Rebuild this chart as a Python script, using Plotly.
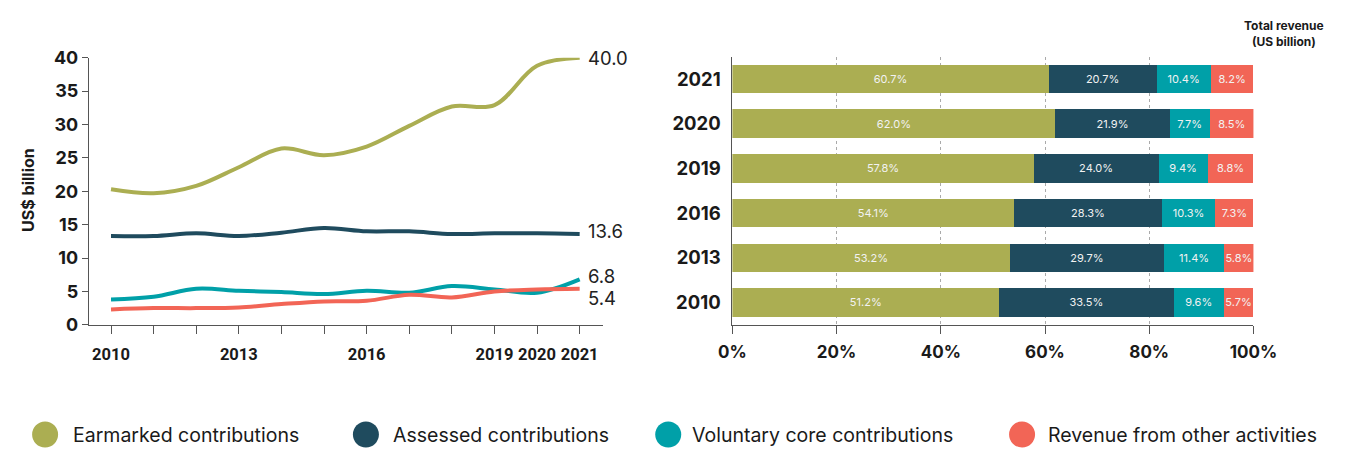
import plotly.graph_objects as go

W, H = 1362, 455

# ---------------- data ----------------
years = [2010, 2011, 2012, 2013, 2014, 2015, 2016, 2017, 2018, 2019, 2020, 2021]
earmarked = [20.3, 19.7, 20.8, 23.6, 26.4, 25.4, 26.7, 29.8, 32.7, 32.9, 38.8, 40.0]
assessed = [13.3, 13.3, 13.7, 13.3, 13.8, 14.5, 14.0, 14.0, 13.6, 13.7, 13.7, 13.6]
voluntary = [3.8, 4.2, 5.4, 5.1, 4.9, 4.6, 5.1, 4.8, 5.8, 5.3, 4.8, 6.8]
other = [2.3, 2.5, 2.5, 2.6, 3.1, 3.5, 3.6, 4.5, 4.1, 5.0, 5.3, 5.4]
end_labels = ["40.0", "13.6", "6.8", "5.4"]
end_label_shift = [0, 3, 3, -9]

x_tick_years = years
x_tick_text = ["2010", "", "", "2013", "", "", "2016", "", "", "2019", "2020", "2021"]
y_ticks = [0, 5, 10, 15, 20, 25, 30, 35, 40]

bar_years = ["2010", "2013", "2016", "2019", "2020", "2021"]
pct_earmarked = [51.2, 53.2, 54.1, 57.8, 62.0, 60.7]
pct_assessed = [33.5, 29.7, 28.3, 24.0, 21.9, 20.7]
pct_voluntary = [9.6, 11.4, 10.3, 9.4, 7.7, 10.4]
pct_other = [5.7, 5.8, 7.3, 8.8, 8.5, 8.2]
totals = ["$39.6", "$44.6", "$49.3", "$56.9", "$62.6", "$65.9"]
pct_ticks = [0, 20, 40, 60, 80, 100]
pct_tick_text = ["0%", "20%", "40%", "60%", "80%", "100%"]

names = ["Earmarked contributions", "Assessed contributions",
         "Voluntary core contributions", "Revenue from other activities"]
colors = ["#abae52", "#1f4b5e", "#00a0a8", "#f26556"]

FONT = "Inter"
TXT = "#1a1a1a"


def px_x(p):
    return p / W


def px_y(p):
    return 1 - p / H


fig = go.Figure()

# ---------------- left: lines ----------------
series = [earmarked, assessed, voluntary, other]
for s, n, c in zip(series, names, colors):
    fig.add_trace(go.Scatter(
        x=years, y=s, mode="lines", name=n,
        line=dict(color=c, width=4, shape="spline", smoothing=1.0),
        cliponaxis=False, showlegend=False, xaxis="x", yaxis="y"))

for s, lab, sh in zip(series, end_labels, end_label_shift):
    fig.add_annotation(x=years[-1], y=s[-1], xref="x", yref="y", text=lab,
                       showarrow=False, xanchor="left", xshift=6, yshift=sh,
                       font=dict(family=FONT, size=18.5, color="#222"))

# ---------------- right: stacked bars ----------------
pcts = [pct_earmarked, pct_assessed, pct_voluntary, pct_other]
for p, n, c in zip(pcts, names, colors):
    fig.add_trace(go.Bar(
        y=bar_years, x=p, orientation="h", name=n,
        marker=dict(color=c, line=dict(width=0)),
        texttemplate="%{x:.1f}%", textposition="inside",
        insidetextanchor="middle",
        textfont=dict(family=FONT, size=11, color="#f2f2f2"),
        showlegend=False, xaxis="x2", yaxis="y2"))

for yv, t in zip(bar_years, totals):
    fig.add_annotation(x=100, y=yv, xref="x2", yref="y2", text=t,
                       showarrow=False, xanchor="left", xshift=5,
                       font=dict(family=FONT, size=20, color="#222"))

fig.add_annotation(x=px_x(1306), y=px_y(24), xref="paper", yref="paper",
                   text="<b>Total revenue<br>(US billion)</b>", showarrow=False,
                   xanchor="center", yanchor="middle", align="center",
                   font=dict(family=FONT, size=12, color=TXT))

# y axis title left
fig.add_annotation(x=px_x(15), y=px_y(188), xref="paper", yref="paper",
                   text="<b>US$ billion</b>", textangle=-90, showarrow=False,
                   xanchor="center", yanchor="middle",
                   font=dict(family=FONT, size=16, color=TXT))

# ---------------- legend (manual) ----------------
leg_cx = [32, 362, 673, 1037]
leg_tx = [59, 388, 695, 1062]
leg_cy = 444
for cx, tx, n, c in zip(leg_cx, leg_tx, names, colors):
    fig.add_shape(type="circle", xref="paper", yref="paper",
                  xsizemode="pixel", ysizemode="pixel",
                  xanchor=px_x(cx), yanchor=px_y(leg_cy),
                  x0=-13, x1=13, y0=-13, y1=13,
                  fillcolor=c, line=dict(width=0))
    fig.add_annotation(x=px_x(tx), y=px_y(leg_cy), xref="paper", yref="paper",
                       text=n, showarrow=False, xanchor="left", yanchor="middle",
                       font=dict(family=FONT, size=19.5, color=TXT))

axis_common = dict(showline=True, linecolor="#555", linewidth=1,
                   ticks="outside", tickcolor="#555", tickwidth=1)

fig.update_layout(
    width=W, height=H,
    margin=dict(l=0, r=0, t=0, b=0),
    paper_bgcolor="white", plot_bgcolor="white",
    barmode="stack", bargap=0.36,
    uniformtext=dict(minsize=11, mode="show"),
    font=dict(family=FONT, color=TXT),
    xaxis=dict(domain=[px_x(77), px_x(606)], range=[2009.48, 2021.55],
               tickvals=x_tick_years, ticktext=x_tick_text, ticklen=8,
               ticklabelstandoff=6, tickangle=0, showgrid=False, zeroline=False,
               tickfont=dict(family="Roboto", size=16.5, color=TXT, weight="bold"),
               anchor="y", **axis_common),
    yaxis=dict(domain=[px_y(329), px_y(49)], range=[0, 40],
               tickvals=y_ticks, ticklen=6, ticklabelstandoff=0,
               showgrid=False, zeroline=False, anchor="x",
               tickfont=dict(family=FONT, size=18, color=TXT, weight="bold"),
               **axis_common),
    xaxis2=dict(domain=[px_x(739), px_x(1275)], range=[0, 100],
                tickvals=pct_ticks, ticktext=pct_tick_text, ticklen=8,
                ticklabelstandoff=4, tickangle=0,
                showgrid=True, gridcolor="#aaaaaa", griddash="dot", gridwidth=1,
                zeroline=False, anchor="y2",
                tickfont=dict(family=FONT, size=17, color=TXT, weight="bold"),
                **axis_common),
    yaxis2=dict(domain=[px_y(329), px_y(48)], range=[-0.5, 5.5],
                type="category", categoryorder="array", categoryarray=bar_years,
                showline=True, linecolor="#555", linewidth=1, ticks="",
                ticklabelstandoff=7, showgrid=False, zeroline=False,
                tickfont=dict(family=FONT, size=18.5, color=TXT, weight="bold"),
                anchor="x2"),
)

post = ("document.body.style.margin='0';document.body.style.padding='0';"
        "document.body.style.overflow='hidden';")
fig.write_html("out.html", post_script=post, config={"displayModeBar": False})
